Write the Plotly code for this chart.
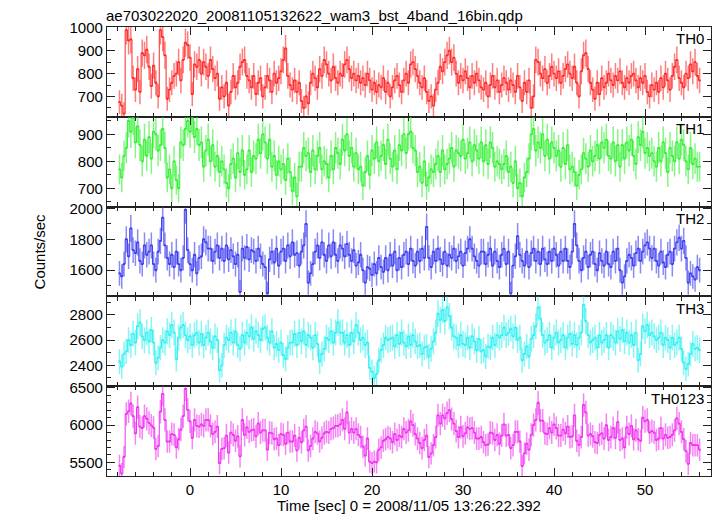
import plotly.graph_objects as go
from plotly.subplots import make_subplots

BIN = 0.25
T_START = -7.75

th0 = [675, 660, 625, 990, 945, 950, 780, 730, 820, 720, 890, 880, 905, 830, 745, 835,
       760, 700, 990, 960, 880, 690, 730, 760, 790, 800, 850, 770, 860, 935, 925, 870,
       710, 840, 830, 860, 800, 850, 830, 790, 860, 820, 780, 800, 690, 740, 700, 760,
       660, 720, 790, 740, 760, 830, 850, 860, 790, 770, 740, 790, 710, 760, 780, 700,
       740, 790, 770, 720, 800, 760, 780, 810, 860, 910, 790, 750, 730, 770, 720, 760,
       680, 650, 700, 670, 760, 800, 780, 740, 820, 790, 860, 840, 800, 770, 830, 780,
       760, 800, 790, 840, 860, 820, 780, 800, 770, 790, 760, 780, 750, 800, 770, 730,
       760, 720, 750, 740, 780, 720, 760, 700, 740, 770, 790, 750, 720, 770, 800, 760,
       840, 850, 820, 790, 760, 740, 780, 720, 680, 700, 660, 730, 760, 830, 810, 850,
       880, 900, 850, 870, 800, 760, 790, 770, 810, 780, 740, 790, 760, 800, 770, 740,
       730, 760, 700, 750, 790, 740, 770, 720, 750, 780, 760, 730, 770, 750, 720, 790,
       740, 680, 760, 720, 770, 650, 700, 860, 850, 800, 780, 820, 760, 790, 830, 800,
       780, 810, 760, 790, 820, 840, 800, 780, 830, 760, 700, 810, 880, 890, 820, 760,
       730, 690, 760, 710, 780, 740, 760, 800, 770, 750, 790, 770, 810, 760, 740, 780,
       760, 790, 800, 770, 740, 780, 760, 790, 720, 700, 750, 730, 760, 720, 780, 740,
       800, 770, 730, 790, 830, 860, 780, 760, 740, 800, 780, 840, 810, 850, 790, 770]

th1 = [770, 740, 820, 850, 950, 910, 960, 870, 930, 860, 800, 880, 820, 890, 810, 910,
       900, 840, 860, 920, 850, 740, 770, 700, 800, 730, 700, 870, 860, 920, 950, 910,
       960, 890, 920, 860, 870, 780, 840, 880, 800, 860, 780, 820, 760, 800, 770, 720,
       700, 790, 810, 740, 830, 760, 840, 750, 770, 840, 760, 820, 810, 880, 830, 900,
       870, 810, 880, 780, 820, 750, 800, 770, 790, 730, 810, 760, 690, 740, 670, 780,
       780, 850, 820, 830, 760, 840, 770, 820, 850, 770, 800, 790, 740, 820, 770, 850,
       830, 790, 880, 840, 900, 820, 850, 780, 830, 770, 780, 710, 760, 820, 750, 840,
       810, 870, 800, 820, 860, 790, 880, 810, 780, 840, 770, 860, 840, 900, 830, 900,
       910, 850, 840, 760, 780, 720, 800, 710, 740, 770, 760, 790, 820, 760, 840, 770,
       790, 810, 850, 780, 840, 830, 820, 880, 810, 830, 870, 800, 860, 840, 810, 870,
       800, 860, 790, 870, 850, 780, 800, 790, 770, 790, 820, 760, 780, 720, 800, 700,
       720, 670, 740, 760, 810, 900, 920, 840, 870, 850, 900, 820, 880, 810, 870, 850,
       820, 840, 780, 850, 790, 860, 770, 780, 760, 710, 750, 770, 830, 810, 780, 840,
       800, 820, 860, 810, 870, 850, 880, 820, 810, 870, 800, 860, 780, 860, 810, 870,
       840, 880, 820, 790, 890, 860, 910, 830, 850, 820, 830, 800, 780, 850, 800, 870,
       830, 760, 850, 820, 800, 870, 810, 880, 860, 800, 770, 850, 790, 810, 780, 780]

th2 = [1580, 1560, 1640, 1800, 1690, 1870, 1730, 1710, 1780, 1660, 1640, 1760, 1700, 1720, 1760, 1640,
       1600, 1720, 1790, 1940, 1760, 1680, 1640, 1700, 1620, 1720, 1640, 1600, 1680, 1990, 1730, 1640,
       1600, 1700, 1580, 1680, 1690, 1800, 1780, 1740, 1740, 1660, 1720, 1760, 1680, 1740, 1660, 1760,
       1670, 1730, 1690, 1640, 1700, 1460, 1740, 1680, 1750, 1670, 1730, 1720, 1660, 1740, 1690, 1640,
       1620, 1450, 1670, 1720, 1650, 1740, 1630, 1720, 1740, 1660, 1760, 1690, 1780, 1700, 1710, 1630,
       1720, 1760, 1900, 1520, 1580, 1640, 1720, 1760, 1680, 1780, 1700, 1660, 1760, 1690, 1780, 1700,
       1660, 1760, 1740, 1690, 1770, 1700, 1660, 1730, 1630, 1650, 1700, 1600, 1520, 1620, 1610, 1570,
       1640, 1580, 1680, 1620, 1590, 1680, 1600, 1700, 1630, 1720, 1600, 1680, 1620, 1700, 1720, 1640,
       1740, 1660, 1630, 1720, 1660, 1740, 1680, 1880, 1680, 1620, 1720, 1660, 1740, 1670, 1640, 1720,
       1630, 1700, 1680, 1740, 1660, 1690, 1720, 1630, 1710, 1740, 1800, 1740, 1690, 1660, 1630, 1720,
       1720, 1640, 1700, 1740, 1630, 1720, 1660, 1620, 1700, 1740, 1640, 1720, 1450, 1630, 1690, 1820,
       1700, 1660, 1630, 1720, 1620, 1710, 1740, 1660, 1720, 1640, 1740, 1670, 1640, 1720, 1660, 1740,
       1700, 1630, 1720, 1660, 1740, 1660, 1620, 1720, 1900, 1760, 1660, 1600, 1680, 1720, 1620, 1700,
       1720, 1640, 1600, 1710, 1660, 1630, 1720, 1640, 1620, 1720, 1660, 1740, 1600, 1520, 1560, 1660,
       1700, 1680, 1630, 1710, 1740, 1660, 1720, 1760, 1780, 1740, 1680, 1740, 1660, 1630, 1720, 1650,
       1620, 1700, 1720, 1640, 1740, 1780, 1810, 1740, 1790, 1680, 1520, 1580, 1560, 1540, 1620, 1600]

th3 = [2430, 2390, 2490, 2510, 2600, 2560, 2650, 2580, 2710, 2740, 2630, 2600, 2660, 2590, 2680, 2580,
       2420, 2460, 2540, 2600, 2580, 2670, 2640, 2720, 2660, 2450, 2620, 2700, 2720, 2640, 2600, 2630,
       2560, 2640, 2660, 2580, 2650, 2560, 2620, 2660, 2590, 2540, 2630, 2600, 2360, 2400, 2560, 2620,
       2600, 2660, 2580, 2670, 2560, 2530, 2640, 2580, 2660, 2630, 2700, 2610, 2670, 2640, 2600, 2690,
       2700, 2620, 2580, 2670, 2540, 2570, 2520, 2580, 2480, 2450, 2540, 2580, 2580, 2650, 2560, 2660,
       2590, 2670, 2560, 2640, 2620, 2540, 2640, 2570, 2430, 2490, 2530, 2620, 2600, 2670, 2580, 2660,
       2740, 2660, 2660, 2580, 2640, 2560, 2660, 2590, 2720, 2660, 2600, 2620, 2560, 2580, 2380, 2350,
       2300, 2330, 2440, 2520, 2560, 2620, 2600, 2610, 2620, 2550, 2640, 2570, 2660, 2580, 2550, 2630,
       2560, 2640, 2590, 2550, 2560, 2490, 2540, 2550, 2470, 2530, 2590, 2660, 2810, 2760, 2840, 2750,
       2860, 2790, 2700, 2630, 2620, 2560, 2640, 2570, 2560, 2620, 2540, 2630, 2590, 2520, 2610, 2510,
       2520, 2470, 2550, 2540, 2620, 2560, 2640, 2620, 2640, 2700, 2640, 2660, 2690, 2630, 2700, 2600,
       2620, 2440, 2490, 2550, 2470, 2610, 2640, 2710, 2860, 2770, 2640, 2580, 2600, 2640, 2540, 2620,
       2660, 2580, 2600, 2640, 2540, 2620, 2650, 2570, 2640, 2560, 2620, 2660, 2880, 2750, 2640, 2580,
       2600, 2620, 2540, 2640, 2580, 2600, 2640, 2540, 2640, 2620, 2580, 2670, 2610, 2680, 2590, 2660,
       2580, 2640, 2560, 2660, 2440, 2490, 2710, 2670, 2720, 2640, 2660, 2630, 2600, 2620, 2660, 2560,
       2620, 2600, 2540, 2620, 2560, 2580, 2620, 2530, 2420, 2370, 2410, 2490, 2570, 2530, 2540, 2520]

# TH0123 is the sum of the four bands
th0123 = [a + b + c + d for a, b, c, d in zip(th0, th1, th2, th3)]

labels = ["TH0", "TH1", "TH2", "TH3", "TH0123"]
series = [th0, th1, th2, th3, th0123]
y_ranges = [[611, 1004], [632, 965], [1431, 2011], [2234, 2947], [5317, 6522]]
y_ticks = [[700, 800, 900, 1000], [700, 800, 900], [1600, 1800, 2000],
           [2400, 2600, 2800], [5500, 6000, 6500]]
y_minor = [50, 50, 100, 100, 100]
colors = [(255, 40, 40), (50, 240, 50), (60, 60, 240), (50, 240, 240), (240, 50, 240)]

time = [T_START + BIN * i for i in range(len(th0))]

fig = make_subplots(rows=5, cols=1, shared_xaxes=True, vertical_spacing=0)

for i, (vals, col) in enumerate(zip(series, colors)):
    err = [(v / BIN) ** 0.5 for v in vals]
    main = "rgb(%d,%d,%d)" % col
    light = "rgba(%d,%d,%d,0.6)" % col
    fig.add_trace(go.Scatter(
        x=time, y=vals, mode="lines", line=dict(shape="hvh", width=1, color=main),
        error_x=dict(type="constant", value=BIN / 2, width=0, thickness=1.8, color=main),
        error_y=dict(type="data", array=err, width=0, thickness=1.5, color=light),
        showlegend=False, hoverinfo="skip"), row=i + 1, col=1)

font = dict(family="Liberation Sans, Arial, sans-serif", size=15, color="black")
axis_common = dict(showline=True, linecolor="#222", linewidth=1.3, mirror="allticks",
                   ticks="inside", ticklen=8, tickwidth=1.2, tickcolor="#222",
                   showgrid=False, zeroline=False, tickfont=font)

for i in range(5):
    fig.update_yaxes(range=y_ranges[i], tickvals=y_ticks[i],
                     ticktext=[str(v) for v in y_ticks[i]],
                     minor=dict(dtick=y_minor[i], tick0=0, ticklen=4, ticks="inside",
                                tickcolor="#222", showgrid=False),
                     row=i + 1, col=1, **axis_common)
    fig.update_xaxes(range=[-9.12, 57.25], dtick=10, tick0=0,
                     minor=dict(dtick=2, tick0=0, ticklen=4, ticks="inside",
                                tickcolor="#222", showgrid=False),
                     showticklabels=(i == 4), row=i + 1, col=1, **axis_common)
    fig.add_annotation(text=labels[i], xref="x domain",
                       yref="y%s domain" % ("" if i == 0 else i + 1),
                       x=0.992, y=0.985, xanchor="right", yanchor="top",
                       showarrow=False, font=font)

fig.add_annotation(text="Time [sec] 0 = 2008/11/05 13:26:22.392", xref="paper", yref="paper",
                   x=0.5, y=0, xanchor="center", yanchor="top", yshift=-19,
                   showarrow=False, font=font)
fig.add_annotation(text="Counts/sec", xref="paper", yref="paper", x=-0.111, y=0.5,
                   textangle=-90, showarrow=False, font=font, xanchor="center", yanchor="middle")
fig.add_annotation(text="ae703022020_20081105132622_wam3_bst_4band_16bin.qdp",
                   xref="paper", yref="paper", x=0, y=1, xanchor="left", yanchor="bottom",
                   showarrow=False, font=font, xshift=-3, yshift=1)

fig.update_layout(width=717, height=516, margin=dict(l=107, r=6, t=27, b=40),
                  paper_bgcolor="white", plot_bgcolor="white", showlegend=False,
                  hovermode=False)

fig.write_html("out.html", config={"displayModeBar": False},
               post_script="document.body.style.margin='0';")
